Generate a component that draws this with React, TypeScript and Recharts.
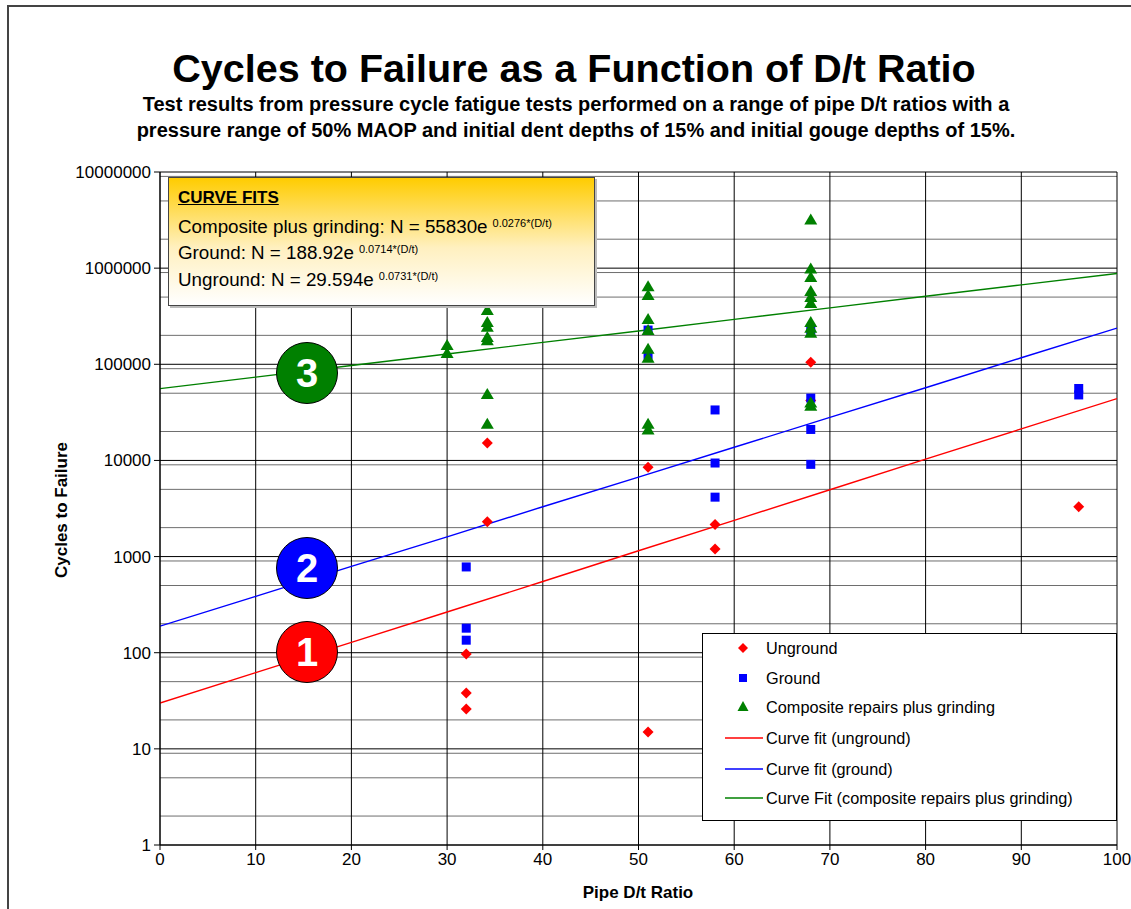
import React from 'react';
import { ComposedChart, Scatter, Line, XAxis, YAxis, CartesianGrid } from 'recharts';

// measured points: [D/t ratio, cycles to failure]
const unground: [number, number][] = [
  [32, 97], [32, 38], [32, 26], [34.2, 15200], [34.2, 2300], [51, 8500], [51, 15],
  [58, 2150], [58, 1200], [68, 105000], [68, 42000], [96, 3300],
];
const ground: [number, number][] = [
  [32, 780], [32, 180], [32, 135], [51, 227000], [51, 125000], [58, 33500], [58, 9400],
  [58, 4150], [68, 227000], [68, 44500], [68, 21000], [68, 9100], [96, 56000], [96, 48000],
];
const composite: [number, number][] = [
  [30, 159000], [30, 131000],
  [34.2, 367000], [34.2, 275000], [34.2, 245000], [34.2, 192000], [34.2, 178000], [34.2, 49000], [34.2, 24000],
  [51, 650000], [51, 525000], [51, 295000], [51, 227000], [51, 145000], [51, 117000], [51, 24000], [51, 21000],
  [68, 3200000], [68, 990000], [68, 810000], [68, 580000], [68, 500000], [68, 435000], [68, 275000],
  [68, 240000], [68, 213000], [68, 40000], [68, 37000],
];

// curve fit lines, every 10 units of D/t
const fitX = [0, 10, 20, 30, 40, 50, 60, 70, 80, 90, 100];
const fitUnground = [30, 62, 128, 265, 550, 1150, 2380, 4950, 10300, 21300, 44000];
const fitGround = [189, 385, 790, 1600, 3300, 6700, 13700, 28000, 57000, 117000, 238000];
const fitComposite = [55800, 73500, 97000, 128000, 169000, 222000, 293000, 386000, 510000, 670000, 880000];

const xTicks = [0, 10, 20, 30, 40, 50, 60, 70, 80, 90, 100];
const yTicks = [1, 10, 100, 1000, 10000, 100000, 1000000, 10000000];
const minorY = yTicks.slice(0, -1).flatMap(d => [2, 3, 4, 5, 6, 7, 8, 9].map(m => m * d));

const FONT = '"Liberation Sans", Arial, sans-serif';

const toPts = (arr: [number, number][]) => arr.map(([x, y]) => ({ x, y }));
const toLine = (ys: number[]) => fitX.map((x, i) => ({ x, y: ys[i] }));

const Diamond = (p: any) => (
  <polygon points={`${p.cx},${p.cy - 5.5} ${p.cx + 5.5},${p.cy} ${p.cx},${p.cy + 5.5} ${p.cx - 5.5},${p.cy}`} fill="#ff0000" />
);
const Square = (p: any) => <rect x={p.cx - 4.5} y={p.cy - 4.5} width={9} height={9} fill="#0000ff" />;
const Triangle = (p: any) => (
  <polygon points={`${p.cx},${p.cy - 6} ${p.cx + 6.5},${p.cy + 5} ${p.cx - 6.5},${p.cy + 5}`} fill="#008000" />
);

function Badge({ n, color, top }: { n: string; color: string; top: number }) {
  return (
    <div style={{
      position: 'absolute', left: 276, top, width: 62, height: 62, borderRadius: '50%',
      background: color, border: '1px solid #000', boxSizing: 'border-box', color: '#fff',
      fontFamily: FONT, fontWeight: 'bold', fontSize: 40, lineHeight: '60px', textAlign: 'center',
    }}>{n}</div>
  );
}

const legendItems = [
  { label: 'Unground', kind: 'diamond', color: '#ff0000' },
  { label: 'Ground', kind: 'square', color: '#0000ff' },
  { label: 'Composite repairs plus grinding', kind: 'triangle', color: '#008000' },
  { label: 'Curve fit (unground)', kind: 'line', color: '#ff0000' },
  { label: 'Curve fit (ground)', kind: 'line', color: '#0000ff' },
  { label: 'Curve Fit (composite repairs plus grinding)', kind: 'line', color: '#008000' },
];
const legendRows = [647, 677, 706, 737, 768, 797];

function LegendBox() {
  return (
    <div style={{
      position: 'absolute', left: 702, top: 633, width: 415, height: 188, background: '#fff',
      border: '1px solid #000', boxSizing: 'border-box', fontFamily: FONT, fontSize: 16.3,
    }}>
      {legendItems.map((it, i) => {
        const cy = legendRows[i] - 633;
        return (
          <div key={it.label} style={{ position: 'absolute', left: 0, top: cy - 10, height: 20, width: 410 }}>
            <svg width={60} height={20} style={{ position: 'absolute', left: 0, top: 0 }}>
              {it.kind === 'diamond' && <polygon points="40,5 45,10 40,15 35,10" fill={it.color} />}
              {it.kind === 'square' && <rect x={36} y={6} width={8} height={8} fill={it.color} />}
              {it.kind === 'triangle' && <polygon points="40,4 45.5,14 34.5,14" fill={it.color} />}
              {it.kind === 'line' && <line x1={22} x2={60} y1={10} y2={10} stroke={it.color} strokeWidth={1.3} />}
            </svg>
            <span style={{ position: 'absolute', left: 63, top: 0, lineHeight: '20px', whiteSpace: 'nowrap' }}>{it.label}</span>
          </div>
        );
      })}
    </div>
  );
}

function FitsBox() {
  const sup: React.CSSProperties = { fontSize: 11, verticalAlign: 'top', position: 'relative', top: -4, marginLeft: 5 };
  const row: React.CSSProperties = { position: 'absolute', left: 9, whiteSpace: 'nowrap', fontSize: 18.8, lineHeight: '22px' };
  return (
    <div style={{
      position: 'absolute', left: 168, top: 177, width: 427, height: 129, boxSizing: 'border-box',
      border: '1px solid #444', background: 'linear-gradient(to bottom, #ffcc00 0%, #fff0c0 55%, #ffffff 100%)',
      fontFamily: FONT, color: '#000', boxShadow: '2px 2px 0 #bbb',
    }}>
      <div style={{ ...row, top: 9, fontSize: 17, fontWeight: 'bold', textDecoration: 'underline' }}>CURVE FITS</div>
      <div style={{ ...row, top: 38 }}>Composite plus grinding: N = 55830e<span style={sup}>0.0276*(D/t)</span></div>
      <div style={{ ...row, top: 64 }}>Ground: N = 188.92e<span style={sup}>0.0714*(D/t)</span></div>
      <div style={{ ...row, top: 91 }}>Unground: N = 29.594e<span style={sup}>0.0731*(D/t)</span></div>
    </div>
  );
}

export default function App() {
  const tickStyle = { fontSize: 17, fill: '#000', fontFamily: FONT };
  return (
    <div style={{ position: 'relative', width: 1131, height: 909, background: '#fff', overflow: 'hidden' }}>
      <style>{'body{margin:0}'}</style>
      <div style={{ position: 'absolute', left: 7, top: 5, width: 1200, height: 1000, borderLeft: '2px solid #444', borderTop: '2px solid #444' }} />

      <div style={{ position: 'absolute', left: 0, width: 1148, top: 44, textAlign: 'center', fontFamily: FONT, fontWeight: 'bold', fontSize: 39.5, lineHeight: '48px' }}>
        Cycles to Failure as a Function of D/t Ratio
      </div>
      <div style={{ position: 'absolute', left: 0, width: 1152, top: 91, textAlign: 'center', fontFamily: FONT, fontWeight: 'bold', fontSize: 20, lineHeight: '26px' }}>
        Test results from pressure cycle fatigue tests performed on a range of pipe D/t ratios with a<br />
        pressure range of 50% MAOP and initial dent depths of 15% and initial gouge depths of 15%.
      </div>

      <div style={{ position: 'absolute', left: 0, top: 0 }}>
        <ComposedChart width={1131} height={909} margin={{ top: 172, right: 14, bottom: 34, left: 50 }}>
          <CartesianGrid horizontal vertical={false} horizontalValues={minorY} stroke="#6e6e6e" strokeWidth={1} />
          <CartesianGrid horizontal vertical horizontalValues={yTicks} verticalValues={xTicks} stroke="#000" strokeWidth={1} />
          <XAxis type="number" dataKey="x" domain={[0, 100]} ticks={xTicks} tick={tickStyle}
            tickSize={5} tickMargin={3} stroke="#000" height={30} allowDataOverflow />
          <YAxis type="number" dataKey="y" scale="log" domain={[1, 10000000]} ticks={yTicks} tick={tickStyle}
            tickFormatter={(v: number) => String(v)} tickSize={6} tickMargin={3} stroke="#000" width={110} allowDataOverflow />
          <Line data={toLine(fitUnground)} dataKey="y" stroke="#ff0000" strokeWidth={1.4} dot={false} isAnimationActive={false} />
          <Line data={toLine(fitGround)} dataKey="y" stroke="#0000ff" strokeWidth={1.4} dot={false} isAnimationActive={false} />
          <Line data={toLine(fitComposite)} dataKey="y" stroke="#008000" strokeWidth={1.4} dot={false} isAnimationActive={false} />
          <Scatter data={toPts(unground)} dataKey="y" shape={Diamond} isAnimationActive={false} />
          <Scatter data={toPts(ground)} dataKey="y" shape={Square} isAnimationActive={false} />
          <Scatter data={toPts(composite)} dataKey="y" shape={Triangle} isAnimationActive={false} />
        </ComposedChart>
      </div>

      <div style={{
        position: 'absolute', left: 62, top: 510, transform: 'translate(-50%, -50%) rotate(-90deg)',
        fontFamily: FONT, fontWeight: 'bold', fontSize: 17, whiteSpace: 'nowrap',
      }}>Cycles to Failure</div>
      <div style={{
        position: 'absolute', left: 638, top: 893, transform: 'translate(-50%, -50%)',
        fontFamily: FONT, fontWeight: 'bold', fontSize: 17, whiteSpace: 'nowrap',
      }}>Pipe D/t Ratio</div>

      <FitsBox />
      <Badge n="3" color="#008000" top={342} />
      <Badge n="2" color="#0000ff" top={537} />
      <Badge n="1" color="#ff0000" top={621} />
      <LegendBox />
    </div>
  );
}
